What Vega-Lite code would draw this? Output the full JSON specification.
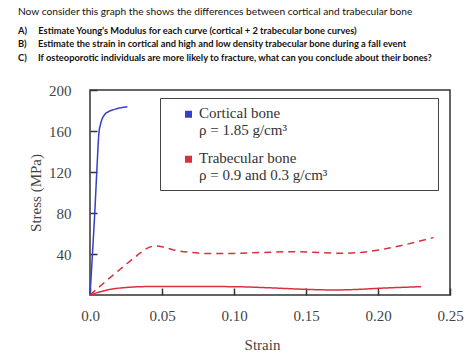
{
  "$schema": "https://vega.github.io/schema/vega-lite/v6.json",
  "width": 360,
  "height": 205,
  "autosize": {"type": "none"},
  "padding": {"left": 90, "top": 90, "right": 24, "bottom": 66},
  "background": "white",
  "title": {
    "text": "Now consider this graph the shows the differences between cortical and trabecular bone",
    "subtitle": [
      "\u00a0\u00a0\u00a0\u00a0\u00a0\u00a0\u00a0A)\u00a0\u00a0\u00a0\u00a0\u00a0Estimate Young’s Modulus for each curve (cortical + 2 trabecular bone curves)",
      "\u00a0\u00a0\u00a0\u00a0\u00a0\u00a0\u00a0B)\u00a0\u00a0\u00a0\u00a0\u00a0Estimate the strain in cortical and high and low density trabecular bone during a fall event",
      "\u00a0\u00a0\u00a0\u00a0\u00a0\u00a0\u00a0C)\u00a0\u00a0\u00a0\u00a0\u00a0If osteoporotic individuals are more likely to fracture, what can you conclude about their bones?"
    ],
    "anchor": "start",
    "frame": "group",
    "dx": -72,
    "offset": 20,
    "font": "Lato",
    "fontSize": 10.2,
    "fontWeight": "normal",
    "color": "#111",
    "subtitleFont": "Lato",
    "subtitleFontSize": 9.3,
    "subtitleFontWeight": "bold",
    "subtitleColor": "#111",
    "subtitleLineHeight": 13.5,
    "subtitlePadding": 10
  },
  "data": {
    "values": [
      {"strain": 0, "stress": 0, "bone": "Cortical bone", "curve": "Cortical"},
      {"strain": 0.0017, "stress": 40, "bone": "Cortical bone", "curve": "Cortical"},
      {"strain": 0.0033, "stress": 80, "bone": "Cortical bone", "curve": "Cortical"},
      {"strain": 0.0047, "stress": 120, "bone": "Cortical bone", "curve": "Cortical"},
      {"strain": 0.0062, "stress": 158, "bone": "Cortical bone", "curve": "Cortical"},
      {"strain": 0.0072, "stress": 166, "bone": "Cortical bone", "curve": "Cortical"},
      {"strain": 0.0085, "stress": 172, "bone": "Cortical bone", "curve": "Cortical"},
      {"strain": 0.0105, "stress": 176.5, "bone": "Cortical bone", "curve": "Cortical"},
      {"strain": 0.013, "stress": 179, "bone": "Cortical bone", "curve": "Cortical"},
      {"strain": 0.018, "stress": 181.5, "bone": "Cortical bone", "curve": "Cortical"},
      {"strain": 0.026, "stress": 183.7, "bone": "Cortical bone", "curve": "Cortical"},

      {"strain": 0, "stress": 0, "bone": "Trabecular bone", "curve": "High density"},
      {"strain": 0.014, "stress": 17, "bone": "Trabecular bone", "curve": "High density"},
      {"strain": 0.026, "stress": 31, "bone": "Trabecular bone", "curve": "High density"},
      {"strain": 0.035, "stress": 41, "bone": "Trabecular bone", "curve": "High density"},
      {"strain": 0.041, "stress": 46.5, "bone": "Trabecular bone", "curve": "High density"},
      {"strain": 0.045, "stress": 47.8, "bone": "Trabecular bone", "curve": "High density"},
      {"strain": 0.05, "stress": 47, "bone": "Trabecular bone", "curve": "High density"},
      {"strain": 0.058, "stress": 44, "bone": "Trabecular bone", "curve": "High density"},
      {"strain": 0.07, "stress": 41.5, "bone": "Trabecular bone", "curve": "High density"},
      {"strain": 0.081, "stress": 40.5, "bone": "Trabecular bone", "curve": "High density"},
      {"strain": 0.1, "stress": 40.6, "bone": "Trabecular bone", "curve": "High density"},
      {"strain": 0.12, "stress": 41.5, "bone": "Trabecular bone", "curve": "High density"},
      {"strain": 0.139, "stress": 42.2, "bone": "Trabecular bone", "curve": "High density"},
      {"strain": 0.155, "stress": 41.8, "bone": "Trabecular bone", "curve": "High density"},
      {"strain": 0.174, "stress": 40.7, "bone": "Trabecular bone", "curve": "High density"},
      {"strain": 0.19, "stress": 41.8, "bone": "Trabecular bone", "curve": "High density"},
      {"strain": 0.205, "stress": 45, "bone": "Trabecular bone", "curve": "High density"},
      {"strain": 0.22, "stress": 49.5, "bone": "Trabecular bone", "curve": "High density"},
      {"strain": 0.2385, "stress": 56, "bone": "Trabecular bone", "curve": "High density"},

      {"strain": 0, "stress": 0, "bone": "Trabecular bone", "curve": "Low density"},
      {"strain": 0.014, "stress": 5.5, "bone": "Trabecular bone", "curve": "Low density"},
      {"strain": 0.025, "stress": 7.3, "bone": "Trabecular bone", "curve": "Low density"},
      {"strain": 0.035, "stress": 8.1, "bone": "Trabecular bone", "curve": "Low density"},
      {"strain": 0.05, "stress": 8.4, "bone": "Trabecular bone", "curve": "Low density"},
      {"strain": 0.075, "stress": 8.3, "bone": "Trabecular bone", "curve": "Low density"},
      {"strain": 0.1, "stress": 8.1, "bone": "Trabecular bone", "curve": "Low density"},
      {"strain": 0.125, "stress": 7, "bone": "Trabecular bone", "curve": "Low density"},
      {"strain": 0.15, "stress": 5.5, "bone": "Trabecular bone", "curve": "Low density"},
      {"strain": 0.17, "stress": 4.9, "bone": "Trabecular bone", "curve": "Low density"},
      {"strain": 0.185, "stress": 5.4, "bone": "Trabecular bone", "curve": "Low density"},
      {"strain": 0.2, "stress": 6.5, "bone": "Trabecular bone", "curve": "Low density"},
      {"strain": 0.23, "stress": 8.1, "bone": "Trabecular bone", "curve": "Low density"}
    ]
  },
  "mark": {"type": "line", "interpolate": "monotone", "strokeWidth": 1.5},
  "encoding": {
    "x": {
      "field": "strain",
      "type": "quantitative",
      "scale": {"domain": [0, 0.25], "nice": false},
      "axis": {
        "title": "Strain",
        "values": [0, 0.05, 0.1, 0.15, 0.2, 0.25],
        "labelExpr": "datum.value == 0 ? '0.0' : format(datum.value, '.2f')",
        "grid": false,
        "domain": false,
        "tickSize": -7,
        "tickColor": "#333",
        "tickWidth": 1.5,
        "labelFont": "Liberation Serif",
        "labelFontSize": 15,
        "labelColor": "#444",
        "labelPadding": 27,
        "labelBaseline": "middle",
        "labelFlush": false,
        "labelOverlap": false,
        "titleFont": "Liberation Serif",
        "titleFontSize": 15,
        "titleFontWeight": "normal",
        "titleColor": "#444",
        "titleX": 172,
        "titleY": 54,
        "titleBaseline": "alphabetic"
      }
    },
    "y": {
      "field": "stress",
      "type": "quantitative",
      "scale": {"domain": [0, 200], "nice": false},
      "axis": {
        "title": "Stress (MPa)",
        "values": [40, 80, 120, 160, 200],
        "grid": false,
        "domain": false,
        "tickSize": -7,
        "tickColor": "#333",
        "tickWidth": 1.5,
        "labelFont": "Liberation Serif",
        "labelFontSize": 15,
        "labelColor": "#444",
        "labelPadding": 26,
        "labelBaseline": "middle",
        "labelFlush": false,
        "labelOverlap": false,
        "titleFont": "Liberation Serif",
        "titleFontSize": 15,
        "titleFontWeight": "normal",
        "titleColor": "#444",
        "titleAngle": 270,
        "titleX": -50,
        "titleY": 102.5,
        "titleAlign": "center",
        "titleBaseline": "alphabetic"
      }
    },
    "color": {
      "field": "bone",
      "type": "nominal",
      "scale": {"domain": ["Cortical bone", "Trabecular bone"], "range": ["#3340c8", "#d8303c"]},
      "legend": {
        "orient": "none",
        "legendX": 70,
        "legendY": 8,
        "title": null,
        "strokeColor": "#444",
        "padding": 7,
        "symbolType": "M67.2,0.5L67.2,0.5M-0.5,0H0.5V1H-0.5Z",
        "symbolSize": 49,
        "symbolStrokeWidth": 3.5,
        "symbolOpacity": 1,
        "symbolOffset": 14,
        "labelExpr": "datum.label == 'Cortical bone' ? ['Cortical bone', 'ρ = 1.85 g/cm³'] : ['Trabecular bone', 'ρ = 0.9 and 0.3 g/cm³']",
        "labelFont": "Liberation Serif",
        "labelFontSize": 15,
        "labelColor": "#333",
        "labelBaseline": "middle",
        "labelLimit": 500,
        "labelOffset": 3,
        "rowPadding": 12
      }
    },
    "strokeDash": {
      "field": "curve",
      "type": "nominal",
      "scale": {"domain": ["Cortical", "High density", "Low density"], "range": [[1, 0], [7, 5], [1, 0]]},
      "legend": null
    }
  },
  "config": {"view": {"stroke": "#333", "strokeWidth": 1.5}}
}
